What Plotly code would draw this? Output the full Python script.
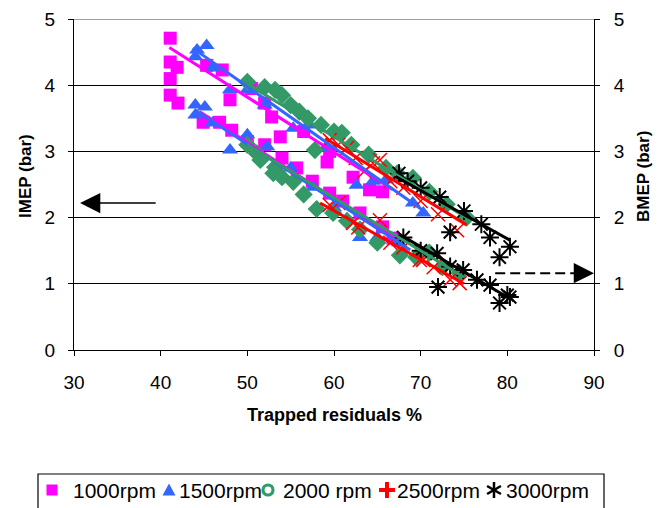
import math
import plotly.graph_objects as go

# ---------------- data ----------------
series_names = ["1000rpm", "1500rpm", "2000 rpm", "2500rpm", "3000rpm"]

# 1000 rpm
x_imep_1000 = [41.1, 41.1, 41.1, 41.9, 41.1, 42.0, 45.3, 47.1, 48.0, 50.5, 52.0, 52.8, 53.8, 56.5, 59.2, 59.5, 62.2, 64.1, 65.6]
imep_1000 = [4.71, 4.35, 4.10, 4.27, 3.85, 3.73, 4.30, 4.23, 3.78, 3.95, 3.73, 3.52, 3.22, 3.30, 2.84, 3.00, 2.61, 2.42, 2.39]
x_bmep_1000 = [44.9, 46.8, 48.2, 50.0, 52.0, 54.0, 55.7, 57.5, 59.5, 61.0, 63.0, 65.6, 66.8]
bmep_1000 = [3.44, 3.44, 3.32, 3.15, 3.10, 2.90, 2.75, 2.55, 2.37, 2.25, 2.07, 1.86, 1.69]

# 1500 rpm
x_imep_1500 = [44.2, 45.3, 44.0, 46.0, 48.0, 50.0, 52.0, 55.3, 57.0, 59.0, 62.6, 64.5, 66.0, 69.1, 70.3]
imep_1500 = [4.53, 4.60, 4.43, 4.26, 3.93, 3.93, 3.70, 3.35, 3.40, 3.05, 2.49, 2.55, 2.57, 2.22, 2.07]
x_bmep_1500 = [44.0, 45.1, 44.0, 46.0, 48.0, 50.0, 52.3, 55.0, 57.6, 60.0, 63.0, 65.0, 67.5]
bmep_1500 = [3.70, 3.67, 3.55, 3.43, 3.02, 3.25, 3.07, 2.75, 2.46, 2.15, 1.70, 1.70, 1.62]

# 2000 rpm
x_imep_2000 = [50.0, 52.0, 53.2, 54.0, 55.0, 56.0, 57.0, 57.8, 58.5, 60.0, 60.9, 62.0, 64.0, 66.0, 67.3, 69.1, 71.0, 73.0, 75.3]
imep_2000 = [4.05, 3.97, 3.93, 3.85, 3.70, 3.60, 3.50, 3.02, 3.40, 3.30, 3.28, 3.10, 2.95, 2.75, 2.67, 2.60, 2.39, 2.20, 2.00]
x_bmep_2000 = [50.0, 51.1, 51.5, 53.0, 53.2, 54.0, 55.3, 56.5, 58.0, 59.9, 61.5, 63.0, 65.0, 67.6, 69.5, 71.0, 72.5, 74.5]
bmep_2000 = [3.10, 2.97, 2.87, 2.67, 2.76, 2.61, 2.54, 2.35, 2.13, 2.07, 1.95, 1.82, 1.62, 1.43, 1.40, 1.47, 1.25, 1.16]

# 2500 rpm
x_imep_2500 = [59.5, 60.5, 61.5, 62.5, 63.5, 64.5, 65.3, 66.5, 68.0, 70.0, 72.0, 74.2]
imep_2500 = [3.17, 3.10, 3.05, 2.90, 2.70, 2.82, 2.87, 2.55, 2.45, 2.25, 2.05, 1.81]
x_bmep_2500 = [59.5, 60.5, 62.2, 62.8, 65.3, 66.5, 68.0, 69.9, 70.3, 71.5, 73.4, 74.5]
bmep_2500 = [2.19, 2.22, 1.92, 1.85, 1.96, 1.62, 1.55, 1.36, 1.36, 1.25, 1.06, 1.01]

# 3000 rpm
x_imep_3000 = [67.5, 68.5, 70.0, 72.2, 73.4, 75.0, 77.0, 78.0, 79.1, 80.3]
imep_3000 = [2.67, 2.55, 2.45, 2.31, 1.78, 2.10, 1.90, 1.70, 1.40, 1.56]
x_bmep_3000 = [68.0, 70.0, 71.9, 72.0, 73.4, 74.9, 76.5, 78.0, 79.1, 80.0, 80.3]
bmep_3000 = [1.70, 1.50, 1.46, 0.95, 1.26, 1.21, 1.06, 0.98, 0.71, 0.83, 0.80]

# linear trend lines: (x_start, y_start, x_end, y_end)
trend_imep = [(41.0, 4.57, 66.8, 2.42), (43.7, 4.56, 70.7, 2.07), (50.0, 4.02, 75.3, 2.00),
              (59.0, 3.20, 75.3, 1.89), (67.1, 2.62, 80.3, 1.66)]
trend_bmep = [(44.5, 3.60, 67.0, 1.70), (44.0, 3.62, 68.8, 1.51), (50.0, 3.10, 75.0, 1.10),
              (58.4, 2.22, 75.0, 1.00), (67.5, 1.75, 80.0, 0.80)]

x_ticks = [30, 40, 50, 60, 70, 80, 90]
y_ticks = [0, 1, 2, 3, 4, 5]

# arrows: left (IMEP axis) and right (BMEP axis)
arrow_left = (39.6, 30.7, 2.22)   # tail x, head x, y
arrow_right = (78.6, 90.0, 1.16)

# ---------------- styles / layout positions (pixels) ----------------
W, H = 665, 508
PL, PR, PT, PB = 74, 594, 19, 350          # plot area in pixels


def px_x(px):
    return (px - PL) / (PR - PL)


def px_y(py):
    return (PB - py) / (PB - PT)


colors = ["#FF00FF", "#3366FF", "#339966", "#FF0000", "#000000"]
markers = [
    dict(symbol="square", size=13, color=colors[0]),
    dict(symbol="triangle-up", size=14, color=colors[1]),
    dict(symbol="diamond", size=14, color=colors[2]),
    dict(symbol="x-thin", size=14, color=colors[3], line=dict(color=colors[3], width=1.5)),
    dict(symbol="asterisk", size=15, color=colors[4], line=dict(color=colors[4], width=2)),
]
legend_sym_px = [52, 169, 268, 387, 494]
legend_txt_px = [71, 177, 281, 395, 504]
legend_y_px = 490
legend_box_px = (38, 604, 474, 516)

imep_x = [x_imep_1000, x_imep_1500, x_imep_2000, x_imep_2500, x_imep_3000]
imep_y = [imep_1000, imep_1500, imep_2000, imep_2500, imep_3000]
bmep_x = [x_bmep_1000, x_bmep_1500, x_bmep_2000, x_bmep_2500, x_bmep_3000]
bmep_y = [bmep_1000, bmep_1500, bmep_2000, bmep_2500, bmep_3000]

FONT = "Liberation Sans, Arial, sans-serif"

fig = go.Figure()

for i in range(5):
    fig.add_trace(go.Scatter(x=imep_x[i], y=imep_y[i], mode="markers", marker=markers[i],
                             showlegend=False, cliponaxis=False, xaxis="x", yaxis="y"))
    fig.add_trace(go.Scatter(x=bmep_x[i], y=bmep_y[i], mode="markers", marker=markers[i],
                             showlegend=False, cliponaxis=False, xaxis="x", yaxis="y2"))

for i in range(5):
    a = trend_imep[i]
    b = trend_bmep[i]
    fig.add_trace(go.Scatter(x=[a[0], a[2]], y=[a[1], a[3]], mode="lines",
                             line=dict(color=colors[i], width=3), showlegend=False, yaxis="y"))
    fig.add_trace(go.Scatter(x=[b[0], b[2]], y=[b[1], b[3]], mode="lines",
                             line=dict(color=colors[i], width=3), showlegend=False, yaxis="y2"))


# ---------------- legend (drawn as shapes + text below the plot) ----------------
def pline(x0, y0, x1, y1, color, width):
    fig.add_shape(type="line", x0=px_x(x0), y0=px_y(y0), x1=px_x(x1), y1=px_y(y1),
                  xref="paper", yref="paper", line=dict(color=color, width=width))


cy = legend_y_px
# square
cx = legend_sym_px[0]
fig.add_shape(type="rect", x0=px_x(cx - 5.5), x1=px_x(cx + 5.5), y0=px_y(cy - 5.5), y1=px_y(cy + 5.5),
              xref="paper", yref="paper", line=dict(width=0), fillcolor=colors[0])
# triangle
cx = legend_sym_px[1]
tri = [(cx - 6.5, cy + 5.5), (cx + 6.5, cy + 5.5), (cx, cy - 6.5)]
path = "M {} {} L {} {} L {} {} Z".format(*[v for p in tri for v in (px_x(p[0]), px_y(p[1]))])
fig.add_shape(type="path", path=path, xref="paper", yref="paper", line=dict(width=0), fillcolor=colors[1])
# open circle
cx = legend_sym_px[2]
fig.add_shape(type="circle", x0=px_x(cx - 5), x1=px_x(cx + 5), y0=px_y(cy - 5), y1=px_y(cy + 5),
              xref="paper", yref="paper", line=dict(color=colors[2], width=3.2), fillcolor="rgba(0,0,0,0)")
# plus
cx = legend_sym_px[3]
pline(cx - 8, cy, cx + 8, cy, colors[3], 4)
pline(cx, cy - 8, cx, cy + 8, colors[3], 4)
# asterisk
cx = legend_sym_px[4]
for ang in (90, 30, 150):
    dx = 8 * math.cos(math.radians(ang))
    dy = 8 * math.sin(math.radians(ang))
    pline(cx - dx, cy - dy, cx + dx, cy + dy, colors[4], 2.5)

for i in range(5):
    fig.add_annotation(text=series_names[i], x=px_x(legend_txt_px[i]), y=px_y(legend_y_px),
                       xref="paper", yref="paper", xanchor="left", yanchor="middle", showarrow=False,
                       font=dict(family=FONT, size=21, color="black"))
fig.add_shape(type="rect", x0=px_x(legend_box_px[0]), x1=px_x(legend_box_px[1]),
              y0=px_y(legend_box_px[2]), y1=px_y(legend_box_px[3]),
              xref="paper", yref="paper", line=dict(color="black", width=1.2), fillcolor="rgba(0,0,0,0)")

# arrows
fig.add_annotation(x=arrow_left[1], y=arrow_left[2], ax=arrow_left[0], ay=arrow_left[2],
                   xref="x", yref="y", axref="x", ayref="y", text="", showarrow=True,
                   arrowhead=2, arrowsize=2.7, arrowwidth=1.5, arrowcolor="black", standoff=0)
fig.add_shape(type="line", x0=arrow_right[0], x1=arrow_right[1] - 2.0, y0=arrow_right[2], y1=arrow_right[2],
              xref="x", yref="y", line=dict(color="black", width=2, dash="10px,5px"))
fig.add_annotation(x=arrow_right[1], y=arrow_right[2], ax=arrow_right[1] - 2.2, ay=arrow_right[2],
                   xref="x", yref="y", axref="x", ayref="y", text="", showarrow=True,
                   arrowhead=2, arrowsize=2.7, arrowwidth=1.5, arrowcolor="black", standoff=0)
# grey top border line
fig.add_shape(type="line", x0=0, x1=1, xref="paper", y0=5, y1=5, yref="y",
              line=dict(color="#808080", width=1.5), layer="above")

axis_font = dict(family=FONT, size=19, color="black")
title_font = dict(family=FONT, size=17, color="black")

# axis titles placed in pixel units
fig.add_annotation(text="<b>Trapped residuals %</b>", x=0.5, y=px_y(415), xref="paper", yref="paper",
                   xanchor="center", yanchor="middle", showarrow=False, font=dict(family=FONT, size=18, color="black"))
fig.add_annotation(text="<b>IMEP (bar)</b>", x=px_x(25), y=px_y(176), xref="paper", yref="paper", textangle=-90,
                   xanchor="center", yanchor="middle", showarrow=False, font=title_font)
fig.add_annotation(text="<b>BMEP (bar)</b>", x=px_x(643), y=px_y(177), xref="paper", yref="paper", textangle=-90,
                   xanchor="center", yanchor="middle", showarrow=False, font=title_font)

fig.update_layout(
    width=W, height=H,
    margin=dict(l=PL, r=W - PR, t=PT, b=H - PB, autoexpand=False),
    paper_bgcolor="white", plot_bgcolor="white",
    font=dict(family=FONT, color="black"),
    showlegend=False,
    xaxis=dict(range=[30, 90], tickvals=x_ticks, ticks="outside", ticklen=5, tickcolor="black",
               showline=True, linecolor="black", linewidth=1, showgrid=False, zeroline=False,
               tickfont=axis_font, ticklabelstandoff=10),
    yaxis=dict(range=[0, 5], tickvals=y_ticks, ticks="outside", ticklen=5, tickcolor="black",
               showline=True, linecolor="black", linewidth=1, showgrid=True, gridcolor="black",
               gridwidth=1, zeroline=False, tickfont=axis_font, ticklabelstandoff=9),
    yaxis2=dict(range=[0, 5], tickvals=y_ticks, ticks="outside", ticklen=5, tickcolor="black",
                overlaying="y", side="right", showline=True, linecolor="black", linewidth=1,
                showgrid=False, zeroline=False, tickfont=axis_font, ticklabelstandoff=10),
)

fig.write_html("out.html")
